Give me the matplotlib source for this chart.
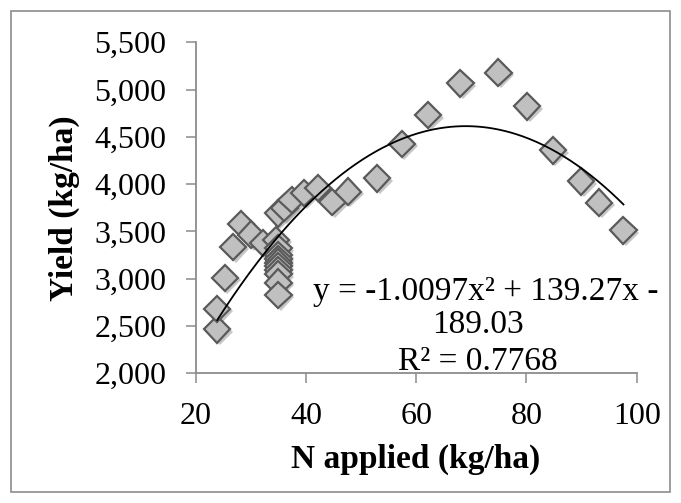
import numpy as np
import matplotlib
matplotlib.use("Agg")
import matplotlib.pyplot as plt
import matplotlib.patheffects as pe
from matplotlib.patches import Rectangle

# ---- data ----
n_applied = [23.9, 23.9, 25.3, 26.8, 28.2, 30.1, 32.2,
             34.6, 35.0, 35.0, 35.0, 35.0, 35.0, 35.0, 35.0, 35.0, 35.0,
             34.9, 36.1, 37.4, 39.7, 42.2, 44.8, 47.6, 52.9, 57.4,
             62.1, 68.0, 74.9, 80.1, 84.8, 89.9, 93.2, 97.6]
yield_kg = [2465, 2680, 3008, 3336, 3580, 3465, 3380,
            3410, 3320, 3250, 3210, 3170, 3130, 3090, 3050, 2960, 2830,
            3690, 3750, 3830, 3905, 3960, 3810, 3920, 4060, 4425,
            4731, 5066, 5180, 4823, 4358, 4030, 3806, 3510]

# trendline coefficients printed on the chart
coef_a, coef_b, coef_c = -1.0097, 139.27, -189.03
r_squared = 0.7768

x_ticks = [20, 40, 60, 80, 100]
y_ticks = [2000, 2500, 3000, 3500, 4000, 4500, 5000, 5500]

W, H = 681, 503
fig = plt.figure(figsize=(W / 100, H / 100), dpi=100)

serif = "Liberation Serif"

def fx(px):
    return px / W

def fy(py):
    return 1 - py / H

ax = fig.add_axes([fx(195.7), fy(373.3), (636.7 - 195.7) / W, (373.3 - 42.3) / H])
ax.set_xlim(20, 100)
ax.set_ylim(2000, 5500)

# trendline
xs = np.linspace(min(n_applied), max(n_applied), 300)
ys = np.polyval([coef_a, coef_b, coef_c], xs)

ax.plot(n_applied, yield_kg, linestyle="none", marker="D", markersize=13.5,
        markerfacecolor="#c0c0c0", markeredgecolor="#5a5a5a", markeredgewidth=1.6,
        path_effects=[pe.SimplePatchShadow(offset=(1.8, -1.8), shadow_rgbFace="#9a9a9a", alpha=0.55),
                      pe.Normal()], zorder=3)
ax.plot(xs, ys, color="black", linewidth=1.3, zorder=4)

ax.set_xticks(x_ticks)
ax.set_yticks(y_ticks)
ax.set_xticklabels([str(t) for t in x_ticks])
ax.set_yticklabels([f"{t:,}" for t in y_ticks])

for s in ["top", "right"]:
    ax.spines[s].set_visible(False)
for s in ["left", "bottom"]:
    ax.spines[s].set_color("#8c8c8c")
    ax.spines[s].set_linewidth(1.3)

ax.tick_params(axis="both", direction="out", length=7, width=1.1, color="#8c8c8c",
               labelsize=23, pad=14)
for lab in ax.get_xticklabels() + ax.get_yticklabels():
    lab.set_fontfamily(serif)

for l in ax.lines:
    l.set_clip_on(False)

# axis titles
fig.text(fx(416), fy(459), "N applied (kg/ha)", family=serif, fontweight="bold",
         fontsize=24, ha="center", va="center")
fig.text(fx(64), fy(208), "Yield (kg/ha)", family=serif, fontweight="bold",
         fontsize=24, ha="center", va="center", rotation=90)

# equation
eq1 = f"y = {coef_a:.4f}x² + {coef_b:.2f}x -"
eq2 = f"{abs(coef_c):.2f}"
eq3 = f"R² = {r_squared:.4f}"
fig.text(fx(486), fy(300), eq1, family=serif, fontsize=24, ha="center", va="baseline")
fig.text(fx(478), fy(333), eq2, family=serif, fontsize=24, ha="center", va="baseline")
fig.text(fx(478), fy(370), eq3, family=serif, fontsize=24, ha="center", va="baseline")

# chart-area border
fig.patches.append(Rectangle((fx(11), fy(492)), fx(670) - fx(11), fy(11) - fy(492),
                             transform=fig.transFigure, fill=False,
                             edgecolor="#8c8c8c", linewidth=1.2))

fig.savefig("out.png", dpi=100)
